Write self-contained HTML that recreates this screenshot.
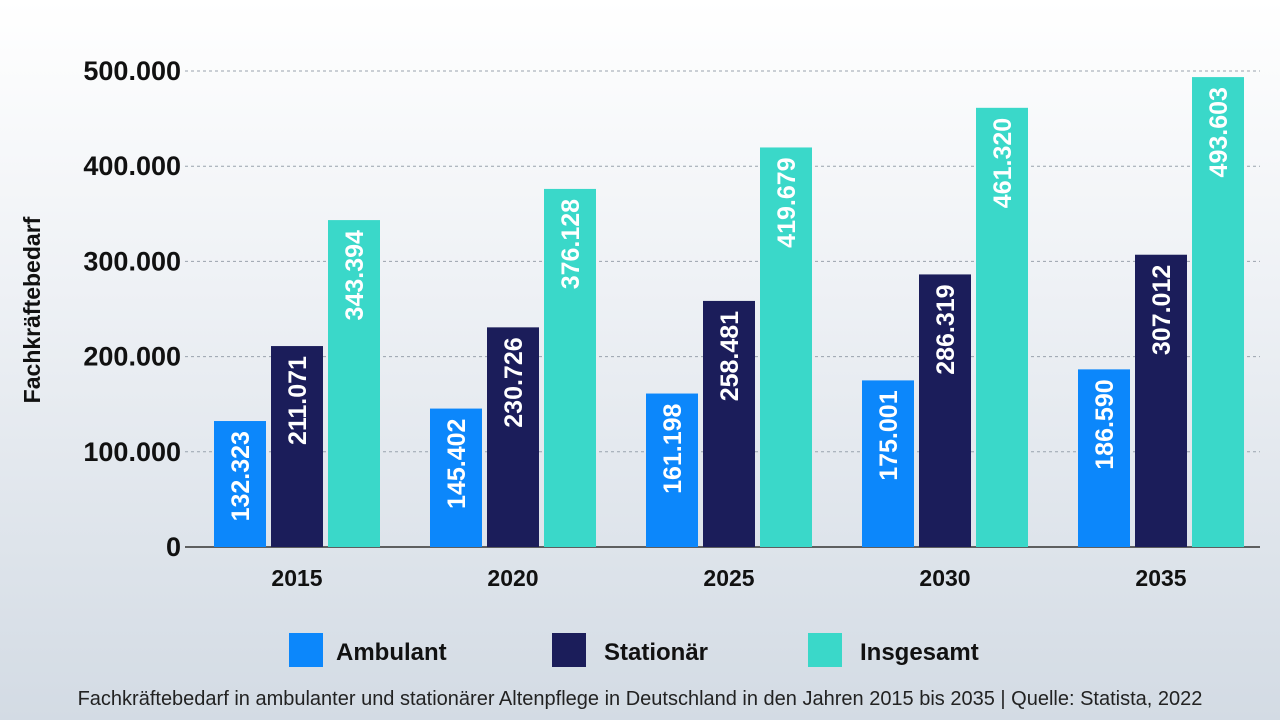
<!DOCTYPE html>
<html><head><meta charset="utf-8"><style>
html,body{margin:0;padding:0}
body{width:1280px;height:720px;overflow:hidden;background:linear-gradient(#ffffff 0%,#eef1f5 40%,#d3dbe4 100%);font-family:"Liberation Sans",sans-serif}
</style></head><body>
<svg id="chart" width="1280" height="720" xmlns="http://www.w3.org/2000/svg" font-family="Liberation Sans, sans-serif">
<text transform="translate(40,310) rotate(-90)" text-anchor="middle" font-size="23" font-weight="bold" fill="#111">Fachkräftebedarf</text>
<g id="grid"></g><g id="bars"></g><g id="xlabels"></g>
<g>
<g><rect x="289" y="633" width="34" height="34" fill="#0c87fb"/><text x="336" y="660" font-size="24" font-weight="bold" fill="#111">Ambulant</text></g>
<g><rect x="552" y="633" width="34" height="34" fill="#1b1d5a"/><text x="604" y="660" font-size="24" font-weight="bold" fill="#111">Stationär</text></g>
<g><rect x="808" y="633" width="34" height="34" fill="#3ad8c9"/><text x="860" y="660" font-size="24" font-weight="bold" fill="#111">Insgesamt</text></g>
</g>
<text x="640" y="705" text-anchor="middle" font-size="20" fill="#222">Fachkräftebedarf in ambulanter und stationärer Altenpflege in Deutschland in den Jahren 2015 bis 2035 | Quelle: Statista, 2022</text>
</svg>
<script>
const categories=["2015","2020","2025","2030","2035"];
const ambulant=[132323,145402,161198,175001,186590];
const stationaer=[211071,230726,258481,286319,307012];
const insgesamt=[343394,376128,419679,461320,493603];
const yTicks=[0,100000,200000,300000,400000,500000];
const yTickLabels=["0","100.000","200.000","300.000","400.000","500.000"];
const NS="http://www.w3.org/2000/svg";
const y0=547,y1=71,yMax=500000;
function y(v){return y0-(v/yMax)*(y0-y1);}
function gx(i){return 297+i*216;}
function mk(t,a,p){const e=document.createElementNS(NS,t);for(const k in a)e.setAttribute(k,a[k]);p.appendChild(e);return e;}
function fmt(v){return v.toString().replace(/\B(?=(\d{3})+(?!\d))/g,".");}
const grid=document.getElementById('grid');
yTicks.forEach((t,i)=>{
 const l=mk('line',{x1:185,x2:1260,y1:y(t),y2:y(t),stroke:i==0?'#333':'#9aa3ad','stroke-width':i==0?1.5:1,'stroke-dasharray':i==0?'':'3,3'},grid);
 
 
 const tx=mk('text',{x:181,y:y(t)+9,'text-anchor':'end','font-size':27,'font-weight':'bold',fill:'#111'},grid);
 tx.textContent=yTickLabels[i];
 
 
});
const bars=document.getElementById('bars'),xl=document.getElementById('xlabels');
const series=[[ambulant,'#0c87fb','ambulant'],[stationaer,'#1b1d5a','stationaer'],[insgesamt,'#3ad8c9','insgesamt']];
const bw=52,gap=5;
categories.forEach((c,i)=>{
 series.forEach((s,j)=>{
  const x=gx(i)-83+j*(bw+gap),v=s[0][i];
  const r=mk('rect',{x:x,y:y(v),width:bw,height:y0-y(v),fill:s[1]},bars);
  
  
  const cx=x+bw/2,top=y(v)+10;
  const t=mk('text',{transform:`translate(${cx+9},${top}) rotate(-90)`,'text-anchor':'end','font-size':25,'font-weight':'bold',fill:'#fff'},bars);
  t.textContent=fmt(v);
  
  
 });
 const t=mk('text',{x:gx(i),y:586,'text-anchor':'middle','font-size':23,'font-weight':'bold',fill:'#111'},xl);
 t.textContent=c;
 
 
});
</script>
</body></html>
